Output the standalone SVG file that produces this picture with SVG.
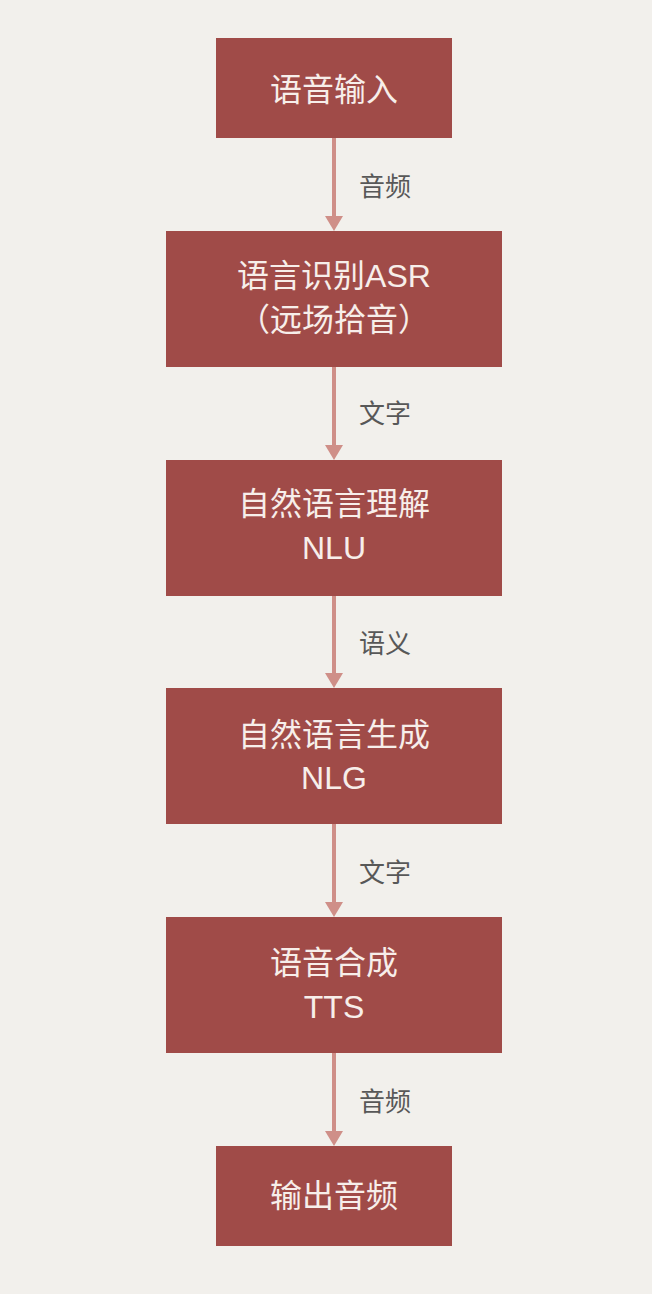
<svg xmlns="http://www.w3.org/2000/svg" width="652" height="1294" viewBox="0 0 652 1294">
<style>
.box{fill:#a04b48}
.t{font-family:"Liberation Sans","Noto Sans CJK SC",sans-serif;font-size:32px;fill:#f7eeea;text-anchor:middle}
.l{font-family:"Liberation Sans","Noto Sans CJK SC",sans-serif;font-size:26px;fill:#585858}
.c{stroke:#cf8f88;stroke-width:4;fill:none}
.h{fill:#cf8f88}
</style>
<rect width="652" height="1294" fill="#f2f0ec"/>
<g id="connectors">
<line class="c" x1="334" y1="138" x2="334" y2="218"/><polygon class="h" points="325,216 343,216 334,231"/>
<line class="c" x1="334" y1="367" x2="334" y2="447"/><polygon class="h" points="325,445 343,445 334,460"/>
<line class="c" x1="334" y1="596" x2="334" y2="675"/><polygon class="h" points="325,673 343,673 334,688"/>
<line class="c" x1="334" y1="824" x2="334" y2="904"/><polygon class="h" points="325,902 343,902 334,917"/>
<line class="c" x1="334" y1="1053" x2="334" y2="1133"/><polygon class="h" points="325,1131 343,1131 334,1146"/>
<text class="l" x="359" y="196">音频</text>
<text class="l" x="359" y="423">文字</text>
<text class="l" x="359" y="653">语义</text>
<text class="l" x="359" y="882">文字</text>
<text class="l" x="359" y="1111">音频</text>
</g>
<g id="n1"><rect class="box" x="216" y="38" width="236" height="100"/><text class="t" x="334" y="101">语音输入</text></g>
<g id="n2"><rect class="box" x="166" y="231" width="336" height="136"/><text class="t" x="334" y="287">语言识别ASR</text><text class="t" x="334" y="331">（远场拾音）</text></g>
<g id="n3"><rect class="box" x="166" y="460" width="336" height="136"/><text class="t" x="334" y="515">自然语言理解</text><text class="t" x="334" y="559">NLU</text></g>
<g id="n4"><rect class="box" x="166" y="688" width="336" height="136"/><text class="t" x="334" y="746">自然语言生成</text><text class="t" x="334" y="789">NLG</text></g>
<g id="n5"><rect class="box" x="166" y="917" width="336" height="136"/><text class="t" x="334" y="974">语音合成</text><text class="t" x="334" y="1018">TTS</text></g>
<g id="n6"><rect class="box" x="216" y="1146" width="236" height="100"/><text class="t" x="334" y="1207">输出音频</text></g>
</svg>
